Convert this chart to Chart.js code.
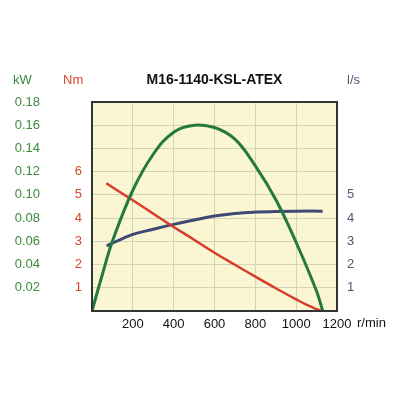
<!DOCTYPE html>
<html>
<head>
<meta charset="utf-8">
<script src="https://cdn.jsdelivr.net/npm/chart.js@4"></script>
<style>
  body { margin: 0; background: #fff; }
  canvas { display: block; }
</style>
</head>
<body>
<canvas id="pumpChart" width="400" height="400"></canvas>
<script>
// chart data
const chartTitle = 'M16-1140-KSL-ATEX';

const powerRpm = [0, 50, 100, 200, 300, 400, 500, 600, 700, 800, 900, 1000, 1100, 1130];
const powerKw = [0, 0.031, 0.060, 0.104, 0.135, 0.154, 0.160, 0.158, 0.148, 0.125, 0.096, 0.059, 0.017, 0];

const torqueRpm = [70, 100, 200, 300, 400, 500, 600, 700, 800, 900, 1000, 1050, 1100, 1125];
const torqueNm = [5.5, 5.33, 4.77, 4.19, 3.62, 3.07, 2.51, 1.99, 1.48, 0.98, 0.50, 0.27, 0.08, 0];

const flowRpm = [72, 100, 150, 200, 300, 400, 500, 600, 700, 800, 900, 1000, 1130];
const flowLs = [2.80, 2.92, 3.12, 3.30, 3.52, 3.73, 3.92, 4.09, 4.20, 4.26, 4.29, 4.30, 4.30];

const rpmTicks = [200, 400, 600, 800, 1000, 1200];
const kwTicks = [0.02, 0.04, 0.06, 0.08, 0.10, 0.12, 0.14, 0.16, 0.18];
const nmTicks = [1, 2, 3, 4, 5, 6];
const lsTicks = [1, 2, 3, 4, 5];

const green = '#247a3c';
const red = '#d83b2c';
const blue = '#3e4a76';

function toPoints(xs, ys) {
    return xs.map((x, i) => ({ x: x, y: ys[i] }));
}

function near(list, v) {
    return list.some(t => Math.abs(t - v) < 1e-6);
}

Chart.defaults.font.family = '"Liberation Sans", Arial, sans-serif';
Chart.defaults.font.size = 13;

const frame = {
    id: 'frame',
    beforeDraw(chart) {
        const a = chart.chartArea;
        const ctx = chart.ctx;
        ctx.save();
        ctx.fillStyle = '#fbf6d2';
        ctx.fillRect(a.left, a.top, a.right - a.left, a.bottom - a.top);
        ctx.restore();
    },
    afterDatasetsDraw(chart) {
        const a = chart.chartArea;
        const ctx = chart.ctx;
        ctx.save();
        ctx.strokeStyle = '#333';
        ctx.lineWidth = 2;
        ctx.strokeRect(a.left, a.top, a.right - a.left, a.bottom - a.top);
        ctx.restore();
    },
    afterDraw(chart) {
        const a = chart.chartArea;
        const ctx = chart.ctx;
        ctx.save();
        ctx.textBaseline = 'middle';
        ctx.font = 'bold 14px "Liberation Sans", Arial, sans-serif';
        ctx.fillStyle = '#111';
        ctx.textAlign = 'center';
        ctx.fillText(chartTitle, (a.left + a.right) / 2, 80);
        ctx.font = '13px "Liberation Sans", Arial, sans-serif';
        ctx.textAlign = 'left';
        ctx.fillStyle = '#3d8a3d';
        ctx.fillText('kW', 13, 80);
        ctx.fillStyle = '#d6462a';
        ctx.fillText('Nm', 63, 80);
        ctx.fillStyle = '#4a5775';
        ctx.fillText('l/s', 347, 80);
        ctx.fillStyle = '#111';
        ctx.fillText('r/min', 357, 323);
        ctx.restore();
    }
};

const ctx = document.getElementById('pumpChart').getContext('2d');
const pumpChart = new Chart(ctx, {
    type: 'line',
    data: {
        datasets: [
            {
                label: 'kW',
                data: toPoints(powerRpm, powerKw),
                yAxisID: 'yKw',
                borderColor: green,
                borderWidth: 3,
                pointRadius: 0,
                tension: 0.4
            },
            {
                label: 'Nm',
                data: toPoints(torqueRpm, torqueNm),
                yAxisID: 'yNm',
                borderColor: red,
                borderWidth: 2.5,
                pointRadius: 0,
                tension: 0.4
            },
            {
                label: 'l/s',
                data: toPoints(flowRpm, flowLs),
                yAxisID: 'yLs',
                borderColor: blue,
                borderWidth: 3,
                pointRadius: 0,
                tension: 0.4
            }
        ]
    },
    options: {
        responsive: false,
        animation: false,
        layout: {
            padding: { top: 102, left: 0, right: 0, bottom: 59 }
        },
        plugins: {
            legend: { display: false },
            tooltip: { enabled: false }
        },
        scales: {
            x: {
                type: 'linear',
                min: 0,
                max: 1200,
                border: { display: false },
                grid: { color: '#d3d3bd', drawTicks: false },
                ticks: {
                    stepSize: 200,
                    padding: 6,
                    color: '#111',
                    maxRotation: 0,
                    callback: v => near(rpmTicks, v) ? v : ''
                },
                afterFit: s => { s.height = 30; }
            },
            yKw: {
                position: 'left',
                weight: 2,
                min: 0,
                max: 0.18,
                border: { display: false },
                grid: { color: '#d3d3bd', drawTicks: false },
                ticks: {
                    stepSize: 0.02,
                    padding: 10,
                    color: '#3d8a3d',
                    callback: v => near(kwTicks, v) ? v.toFixed(2) : ''
                },
                afterFit: s => { s.width = 50; }
            },
            yNm: {
                position: 'left',
                weight: 1,
                min: 0,
                max: 9,
                border: { display: false },
                grid: { display: false, drawTicks: false },
                ticks: {
                    stepSize: 1,
                    padding: 10,
                    color: '#d6462a',
                    callback: v => near(nmTicks, v) ? v : ''
                },
                afterFit: s => { s.width = 42; }
            },
            yLs: {
                position: 'right',
                min: 0,
                max: 9,
                border: { display: false },
                grid: { display: false, drawTicks: false },
                ticks: {
                    stepSize: 1,
                    padding: 10,
                    color: '#4a5775',
                    callback: v => near(lsTicks, v) ? v : ''
                },
                afterFit: s => { s.width = 63; }
            }
        }
    },
    plugins: [frame]
});
</script>
</body>
</html>
